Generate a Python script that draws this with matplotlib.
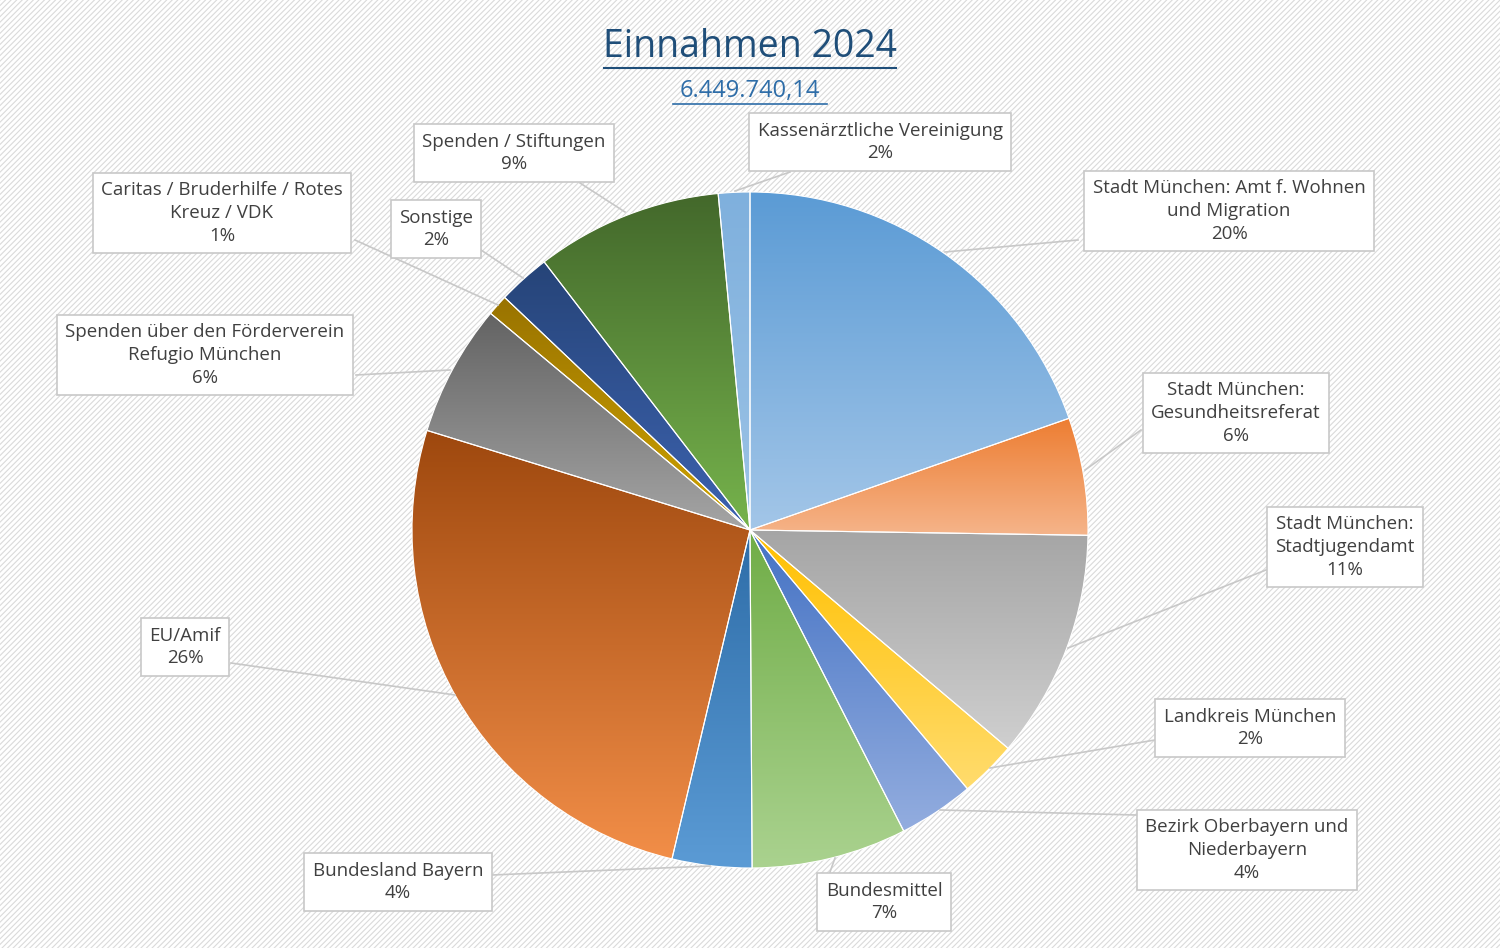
import numpy as np
import matplotlib
matplotlib.use("Agg")
import matplotlib.pyplot as plt
from matplotlib.colors import LinearSegmentedColormap
from matplotlib.patches import Rectangle

labels = ["Stadt München: Amt f. Wohnen\nund Migration", "Stadt München:\nGesundheitsreferat",
          "Stadt München:\nStadtjugendamt", "Landkreis München", "Bezirk Oberbayern und\nNiederbayern",
          "Bundesmittel", "Bundesland Bayern", "EU/Amif", "Spenden über den Förderverein\nRefugio München",
          "Caritas / Bruderhilfe / Rotes\nKreuz / VDK", "Sonstige", "Spenden / Stiftungen",
          "Kassenärztliche Vereinigung"]
values = [19.6, 5.6, 10.9, 2.7, 3.6, 7.4, 3.8, 26.0, 6.3, 1.0, 2.5, 8.9, 1.5]
pct_labels = ["20%", "6%", "11%", "2%", "4%", "7%", "4%", "26%", "6%", "1%", "2%", "9%", "2%"]
top_colors = ["#5b9bd5", "#ed7d31", "#a5a5a5", "#ffc000", "#4472c4", "#70ad47", "#2e6da8",
              "#9e480e", "#636363", "#997300", "#264478", "#43682b", "#7fb0dd"]
bot_colors = ["#a3c6e8", "#f5b48a", "#cfcfcf", "#ffdc6e", "#93add f".replace(" ", ""), "#aad28f", "#5b9bd5",
              "#f28e48", "#a5a5a5", "#d0a400", "#3d63b0", "#76b34c", "#9cc3e6"]
box_centers = [(1229, 211), (1236, 413), (1345, 547), (1250, 728), (1247, 850), (884, 902),
               (398, 882), (185, 647), (205, 355), (222, 213), (436, 229), (514, 153), (880, 142)]
leaders = [((1078, 240), (945, 252)), ((1141, 430), (1085, 470)), ((1266, 570), (1068, 648)),
           ((1155, 740), (990, 768)), ((1136, 815), (940, 810)), ((830, 872), (835, 858)),
           ((492, 875), (710, 866)), ((231, 663), (455, 695)), ((356, 375), (450, 370)),
           ((355, 240), (498, 305)), ((481, 250), (523, 278)), ((580, 183), (625, 212)),
           ((790, 172), (735, 191))]

H = 948
fig = plt.figure(figsize=(15, 9.48), dpi=100)
fig.patch.set_facecolor("white")
plt.rcParams['hatch.linewidth'] = 0.8
fig.patches.append(Rectangle((0, 0), 1, 1, transform=fig.transFigure, facecolor="white",
                             edgecolor="#dadada", hatch="//////", lw=0, zorder=-10))
ax = fig.add_axes([0, 0, 1, 1])
ax.set_facecolor("none")
ax.axis("off")

cx, cy, R = 750, H - 530, 338
wedges, _ = ax.pie(values, startangle=90, counterclock=False, center=(cx, cy), radius=R,
                   wedgeprops=dict(linewidth=0.8, edgecolor="white"))
for w, tc, bc in zip(wedges, top_colors, bot_colors):
    t = np.radians(np.linspace(w.theta1, w.theta2, 100))
    xs = np.concatenate([[cx], cx + R * np.cos(t)])
    ys = np.concatenate([[cy], cy + R * np.sin(t)])
    cmap = LinearSegmentedColormap.from_list("g", [bc, tc])
    grad = np.linspace(0, 1, 256).reshape(-1, 1)
    im = ax.imshow(grad, cmap=cmap, origin="lower", aspect="auto",
                   extent=[xs.min(), xs.max(), ys.min(), ys.max()], zorder=1)
    im.set_clip_path(w)
    w.set_facecolor("none")
    w.set_zorder(2)

for lab, pct, (bx, by), (p0, p1) in zip(labels, pct_labels, box_centers, leaders):
    ax.plot([p0[0], p1[0]], [H - p0[1], H - p1[1]], color="#c8c8c8", lw=1.2, zorder=3)
    ax.text(bx, H - by, lab + "\n" + pct, ha="center", va="center", fontsize=13.5,
            family="Open Sans", color="#404040", linespacing=1.35, zorder=4,
            bbox=dict(boxstyle="square,pad=0.45", facecolor="white", edgecolor="#c8c8c8", lw=1.2))

ax.text(750, H - 47, "Einnahmen 2024", ha="center", va="center", fontsize=27,
        family="Open Sans", color="#1f4e79")
ax.plot([604, 896], [H - 68, H - 68], color="#1f4e79", lw=1.5)
ax.text(750, H - 91, "6.449.740,14", ha="center", va="center", fontsize=17,
        family="Open Sans", color="#2e6da8")
ax.plot([673, 827], [H - 104, H - 104], color="#2e6da8", lw=1.2)

ax.set_xlim(0, 1500)
ax.set_ylim(0, H)
fig.savefig("out.png", dpi=100)
